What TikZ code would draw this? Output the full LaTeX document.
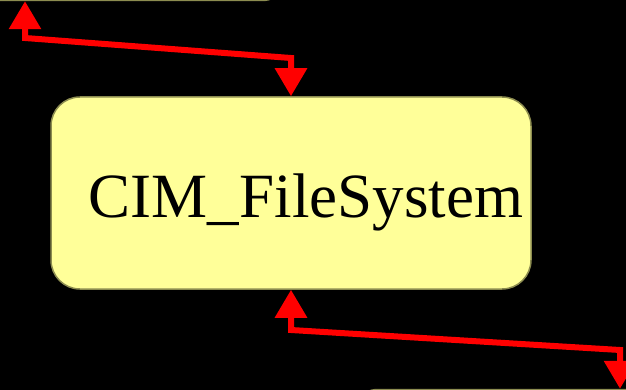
\documentclass[tikz,border=0pt]{standalone}
\usepackage{fontspec}
\setmainfont{Liberation Serif}
\usepackage{tikz}
\usetikzlibrary{arrows.meta,positioning}
\definecolor{cYellow}{HTML}{FFFF99}
\definecolor{cOlive}{HTML}{8C8C50}
\definecolor{cRed}{HTML}{FF0000}
\tikzset{
  cls/.style = {draw=cOlive, fill=cYellow, line width=1.5pt, rounded corners=29pt,
                inner sep=0pt, font=\fontsize{63}{70}\selectfont},
  lnk/.style = {{Triangle[length=28pt, width=31pt]}-{Triangle[length=28pt, width=31pt]},
                draw=cRed, line width=6pt},
}

\begin{document}
\begin{tikzpicture}[x=1pt, y=-1pt]
  \fill[black] (0,0) rectangle (626,390);
  \useasboundingbox (0,0) rectangle (626,390);
  \clip (0,0) rectangle (626,390);
  % the class and its two neighbours, cut off by the page
  \node[cls, minimum width=480pt, minimum height=192pt, text width=464pt, align=right,
        text height=50pt, text depth=0pt] (fs) at (291,193) {CIM\_FileSystem};
  \node[cls, minimum width=400pt, minimum height=100pt, anchor=south east] (up) at (292,1.2) {};
  \node[cls, minimum width=400pt, minimum height=100pt, anchor=north west] (dn) at (348,388.8) {};
  % links
  \coordinate (k1) at (25,38);
  \coordinate (k2) at (291,58);
  \coordinate (k3) at (291,330);
  \coordinate (k4) at (620,350);
  \draw[lnk] (up.south -| k1) -- (k1) -- (k2) -- (fs.north);
  \draw[lnk] (fs.south) -- (k3) -- (k4) -- (dn.north -| k4);
\end{tikzpicture}
\end{document}
